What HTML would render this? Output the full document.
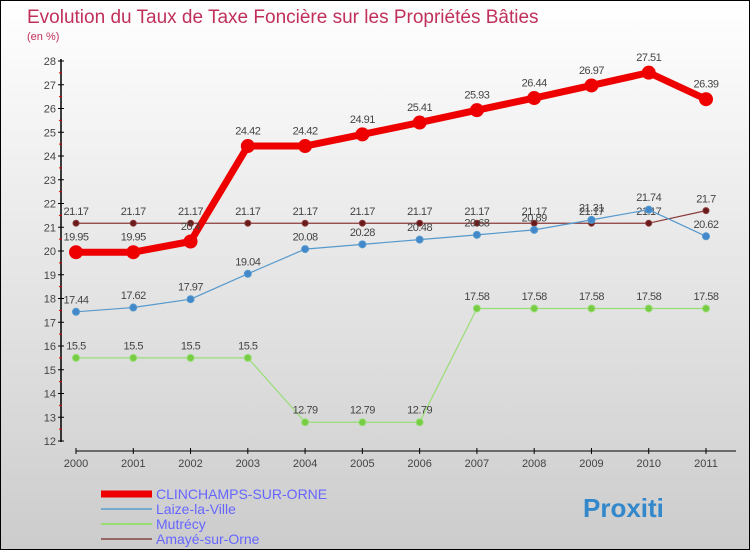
<!DOCTYPE html>
<html><head><meta charset="utf-8"><style>
body{margin:0}
#c{width:748px;height:548px;border:1px solid #000;background:linear-gradient(#fff,#ccc);position:relative;font-family:"Liberation Sans",sans-serif}
svg text{font-family:"Liberation Sans",sans-serif}
</style></head><body>
<div id="c">
<svg id="s" width="748" height="548">
<text x="26" y="22" font-size="19" fill="#c0305a">Evolution du Taux de Taxe Foncière sur les Propriétés Bâties</text>
<text x="26" y="39" font-size="11" fill="#c0305a">(en %)</text>
</svg>
</div>
<script>
const years=["2000","2001","2002","2003","2004","2005","2006","2007","2008","2009","2010","2011"];
const clinchamps=[19.95,19.95,20.4,24.42,24.42,24.91,25.41,25.93,26.44,26.97,27.51,26.39];
const laize=[17.44,17.62,17.97,19.04,20.08,20.28,20.48,20.68,20.89,21.31,21.74,20.62];
const mutrecy=[15.5,15.5,15.5,15.5,12.79,12.79,12.79,17.58,17.58,17.58,17.58,17.58];
const amaye=[21.17,21.17,21.17,21.17,21.17,21.17,21.17,21.17,21.17,21.17,21.17,21.7];
const yTicks=[12,13,14,15,16,17,18,19,20,21,22,23,24,25,26,27,28];
const NS="http://www.w3.org/2000/svg";const s=document.getElementById('s');
const X=i=>75+i*(630/11);const Y=v=>440-(v-12)*23.75;
function el(t,a,p){const e=document.createElementNS(NS,t);for(const k in a)e.setAttribute(k,a[k]);(p||s).appendChild(e);return e;}
// axes
let a=el('line',{x1:60,y1:58,x2:60,y2:441,stroke:'#000','stroke-width':1.5});


a=el('line',{x1:75,y1:450,x2:735,y2:450,stroke:'#000','stroke-width':1});


yTicks.forEach(v=>{
  el('line',{x1:57,x2:63,y1:Y(v),y2:Y(v),stroke:'#000'});
  if(v<28)el('line',{x1:58,x2:61,y1:Y(v+0.5),y2:Y(v+0.5),stroke:'#d00'});
  const t=el('text',{x:55,y:Y(v)+4,'font-size':11,fill:'#444','text-anchor':'end'});t.textContent=v;
  
  
});
years.forEach((y,i)=>{
  el('line',{x1:X(i),x2:X(i),y1:447,y2:453,stroke:'#000'});
  const t=el('text',{x:X(i),y:466,'font-size':11,fill:'#444','text-anchor':'middle'});t.textContent=y;
  
  
});
function series(data,color,w,r,dot,name){
  const p=el('polyline',{points:data.map((v,i)=>X(i)+','+Y(v)).join(' '),fill:'none',stroke:color,'stroke-width':w,'stroke-linejoin':'round'});
  
  
  data.forEach((v,i)=>{
    const c=el('circle',{cx:X(i),cy:Y(v),r:r,fill:dot,stroke:color,'stroke-width':1});
    
    
    const t=el('text',{x:X(i),y:Y(v)-r-5,'font-size':11,fill:'#444','text-anchor':'middle','letter-spacing':'-0.5'});
    t.textContent=String(v).replace('.','.');
    
    
  });
}
series(amaye,'#8a3a3a',1.2,3,'#6a1a1a','amaye-sur-orne');
series(mutrecy,'#99dd77',1.2,3.5,'#77cc44','mutrecy');
series(laize,'#5599cc',1.2,3.5,'#4488cc','laize-la-ville');
series(clinchamps,'#ee0000',7,6.5,'#ee0000','clinchamps-sur-orne');
// legend
const leg=[['CLINCHAMPS-SUR-ORNE','#ee0000',7],['Laize-la-Ville','#77aacc',2],['Mutrécy','#99dd77',2],['Amayé-sur-Orne','#996666',2]];
leg.forEach((l,i)=>{
  const y=[493,508,523,538][i];
  el('line',{x1:100,x2:151,y1:y,y2:y,stroke:l[1],'stroke-width':l[2]});
  const t=el('text',{x:155,y:y+5,'font-size':14,fill:'#6666ff'});t.textContent=l[0];
  
  
});
const lg=el('text',{x:582,y:516,'font-size':26,'font-weight':'bold',fill:'#3388cc'});lg.textContent='Proxiti';


</script>
</body></html>
